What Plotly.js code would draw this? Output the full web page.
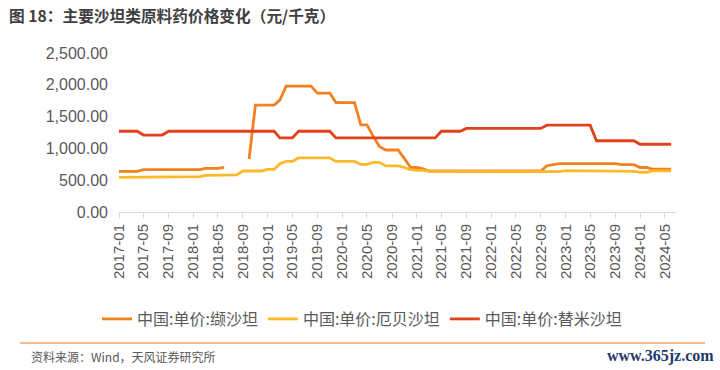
<!DOCTYPE html>
<html>
<head>
<meta charset="utf-8">
<script src="https://cdn.plot.ly/plotly-3.0.1.min.js"></script>
<style>
html,body{margin:0;padding:0;background:#fff;}
#chart{width:720px;height:370px;}
</style>
</head>
<body>
<div id="chart"></div>
<script>
// Months (monthly data)
var months = [
"2017-01","2017-02","2017-03","2017-04","2017-05","2017-06","2017-07","2017-08","2017-09","2017-10","2017-11","2017-12",
"2018-01","2018-02","2018-03","2018-04","2018-05","2018-06","2018-07","2018-08","2018-09","2018-10","2018-11","2018-12",
"2019-01","2019-02","2019-03","2019-04","2019-05","2019-06","2019-07","2019-08","2019-09","2019-10","2019-11","2019-12",
"2020-01","2020-02","2020-03","2020-04","2020-05","2020-06","2020-07","2020-08","2020-09","2020-10","2020-11","2020-12",
"2021-01","2021-02","2021-03","2021-04","2021-05","2021-06","2021-07","2021-08","2021-09","2021-10","2021-11","2021-12",
"2022-01","2022-02","2022-03","2022-04","2022-05","2022-06","2022-07","2022-08","2022-09","2022-10","2022-11","2022-12",
"2023-01","2023-02","2023-03","2023-04","2023-05","2023-06","2023-07","2023-08","2023-09","2023-10","2023-11","2023-12",
"2024-01","2024-02","2024-03","2024-04","2024-05","2024-06"
];

// 中国:单价:缬沙坦 (元/千克)
var valsartan = [
640,640,640,640,665,665,665,665,665,665,665,665,
665,665,686,686,686,700,null,null,null,830,1680,1680,
1680,1680,1760,1980,1980,1980,1980,1980,1870,1870,1870,1720,
1720,1720,1720,1370,1370,1190,1030,975,975,975,840,700,
700,680,645,645,645,645,645,645,645,645,645,645,
645,645,645,645,645,645,645,645,645,728,745,760,
760,760,760,760,760,760,760,760,760,745,745,745,
700,700,675,675,675,675
];

// 中国:单价:厄贝沙坦 (元/千克)
var irbesartan = [
545,545,545,545,555,555,555,555,555,555,555,555,
555,555,575,575,575,585,585,585,645,645,645,645,
670,670,760,796,796,850,850,850,850,850,850,796,
796,796,796,750,750,780,780,725,725,725,700,665,
655,655,640,640,640,640,640,640,640,640,640,640,
640,640,640,640,640,640,640,640,640,635,635,635,
650,650,650,650,650,650,650,650,650,650,650,640,
625,625,648,648,648,648
];

// 中国:单价:替米沙坦 (元/千克)
var telmisartan = [
1270,1270,1270,1270,1210,1210,1210,1210,1270,1270,1270,1270,
1270,1270,1270,1270,1270,1270,1270,1270,1270,1270,1270,1270,
1270,1270,1165,1165,1165,1270,1270,1270,1270,1270,1270,1165,
1165,1165,1165,1165,1165,1165,1165,1165,1165,1165,1165,1165,
1165,1165,1165,1165,1270,1270,1270,1270,1315,1315,1315,1315,
1315,1315,1315,1315,1315,1315,1315,1315,1315,1365,1365,1365,
1365,1365,1365,1365,1365,1120,1120,1120,1120,1120,1120,1120,
1065,1065,1065,1065,1065,1065
];

var seriesNames = ["中国:单价:缬沙坦", "中国:单价:厄贝沙坦", "中国:单价:替米沙坦"];
var yTicks = [0, 500, 1000, 1500, 2000, 2500];

var W = 720, H = 370;
var M = {l: 119, r: 44, t: 53, b: 158};
var pw = W - M.l - M.r, ph = H - M.t - M.b;
function px2x(p){ return (p - M.l) / pw; }
function px2y(p){ return (H - M.b - p) / ph; }

var cjk = '"Noto Sans CJK SC", "Liberation Sans", sans-serif';
var num = '"Liberation Sans", Arial, "Noto Sans CJK SC", sans-serif';

var colors = ["#F4801F", "#FDB92A", "#E2411C"];
var ys = [valsartan, irbesartan, telmisartan];
var traces = ys.map(function(y, i){
  return {
    x: months.map(function(m){ return m + "-01"; }),
    y: y,
    type: "scatter",
    mode: "lines",
    name: seriesNames[i],
    line: {color: colors[i], width: 2.8},
    connectgaps: false,
    hoverinfo: "skip"
  };
});

var layout = {
  width: W, height: H,
  margin: M,
  paper_bgcolor: "#fff",
  plot_bgcolor: "#fff",
  showlegend: true,
  title: {
    text: "<b>图 18：主要沙坦类原料药价格变化（元/千克）</b>",
    font: {family: cjk, size: 15.7, color: "#3F3F3F"},
    xref: "container", yref: "container",
    x: 9 / W, xanchor: "left",
    y: 1 - 17 / H, yanchor: "middle"
  },
  xaxis: {
    type: "date",
    range: ["2017-01-01", "2024-06-25"],
    tick0: "2017-01-01",
    dtick: "M4",
    tickformat: "%Y-%m",
    tickangle: -90,
    ticks: "outside",
    ticklen: 5,
    tickcolor: "#D9D9D9",
    showline: true,
    linecolor: "#D9D9D9",
    linewidth: 1,
    showgrid: false,
    zeroline: false,
    tickfont: {family: num, size: 15, color: "#595959"},
    fixedrange: true
  },
  yaxis: {
    range: [0, 2500],
    tickvals: yTicks,
    tickformat: ",.2f",
    showgrid: false,
    zeroline: false,
    showline: false,
    ticks: "",
    ticklabelstandoff: 10,
    tickfont: {family: num, size: 16, color: "#595959"},
    fixedrange: true
  },
  legend: {
    orientation: "h",
    xref: "container", yref: "container",
    x: 362 / W, xanchor: "center",
    y: 1 - 319 / H, yanchor: "middle",
    font: {family: cjk, size: 16, color: "#595959"},
    itemwidth: 30,
    tracegroupgap: 0,
    bgcolor: "rgba(0,0,0,0)"
  },
  shapes: [{
    type: "line", xref: "paper", yref: "paper",
    x0: px2x(20), x1: px2x(705), y0: px2y(343), y1: px2y(343),
    line: {color: "#F8BC8E", width: 2}
  }],
  annotations: [{
    text: "资料来源：Wind，天风证券研究所",
    xref: "paper", yref: "paper",
    x: px2x(29), y: px2y(356), xanchor: "left", yanchor: "middle",
    showarrow: false,
    font: {family: cjk, size: 12, color: "#595959"}
  }, {
    text: "<b>www.365jz.com</b>",
    xref: "paper", yref: "paper",
    x: px2x(716), y: px2y(356), xanchor: "right", yanchor: "middle",
    showarrow: false,
    font: {family: '"Liberation Serif", "DejaVu Serif", serif', size: 16, color: "#1F3A6E"}
  }]
};

Plotly.newPlot("chart", traces, layout, {displayModeBar: false, staticPlot: true});
</script>
</body>
</html>
